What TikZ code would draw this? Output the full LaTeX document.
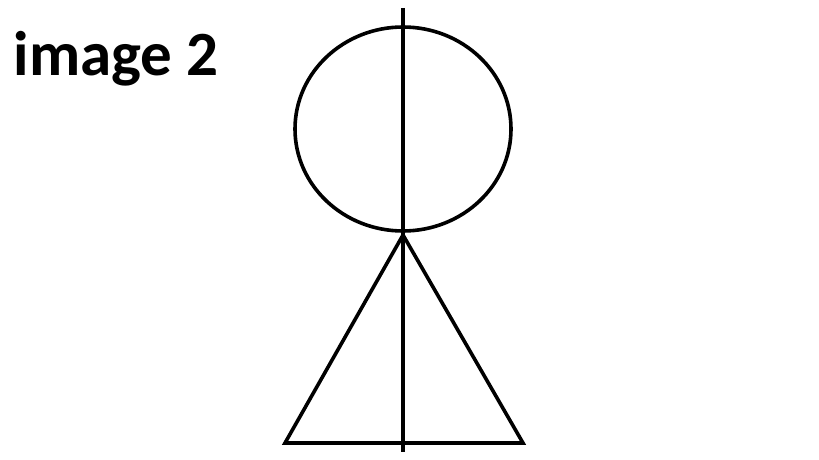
\documentclass[tikz,border=0pt]{standalone}
\usepackage{fontspec}
\usepackage{tikz}
\newfontfamily\labelfont{Carlito}

\begin{document}
\begin{tikzpicture}[x=1pt,y=-1pt,line width=3.6pt]
\useasboundingbox (0,0) rectangle (819,460);
\node[anchor=base west,inner sep=0pt,font=\labelfont\bfseries\fontsize{63}{70}\selectfont] (title) at (12,76) {image 2};
\coordinate (top) at (403,8);
\coordinate (bot) at (403,452);
\coordinate (apex) at (403,235);
\coordinate (bl) at (285,443);
\coordinate (br) at (523,443);
\draw (403,129) ellipse (108pt and 102pt);
\draw[line join=miter] (bl)--(apex)--(br)--cycle;
\draw (top)--(bot);
\end{tikzpicture}
\end{document}
